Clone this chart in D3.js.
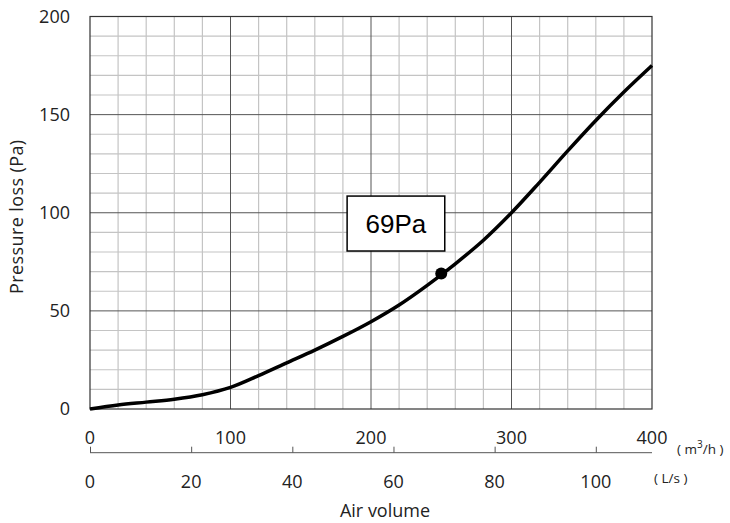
<!DOCTYPE html>
<html>
<head>
<meta charset="utf-8">
<script src="https://cdn.jsdelivr.net/npm/d3@7"></script>
<style>
  body { margin: 0; background: #fff; }
  text { font-family: "Open Sans", "Noto Sans", sans-serif; fill: #222; }
  .minor { stroke: #c4c4c4; stroke-width: 1.2; }
  .major { stroke: #555; stroke-width: 1; }
</style>
</head>
<body>
<svg class="chart"></svg>
<script>
// air volume (m3/h) vs pressure loss (Pa)
var airVolume = [0, 20, 40, 60, 80, 100, 120, 140, 160, 180, 200, 220, 240, 260, 280, 300, 320, 340, 360, 380, 400];
var pressure = [0, 2, 3.5, 5, 7.3, 11, 17, 23.5, 30, 37, 44.5, 53, 63, 74, 86, 100, 115.5, 131.5, 147, 161.5, 175];
var point = { q: 250, p: 69, label: "69Pa" };
var yTicks = [0, 50, 100, 150, 200];
var m3hTicks = [0, 100, 200, 300, 400];
var lsTicks = [0, 20, 40, 60, 80, 100];

var W = 730, H = 523;
var margin = { top: 16.5, left: 90, right: 78, bottom: 114 },
width = W - margin.left - margin.right,
height = H - margin.top - margin.bottom;

var x = d3.scaleLinear().domain([0, 400]).range([0, width]);
var y = d3.scaleLinear().domain([0, 200]).range([height, 0]);
// 1 L/s = 3.6 m3/h
var xLs = d3.scaleLinear().domain([0, 400 / 3.6]).range([0, width]);

var svg = d3.select(".chart")
  .attr("width", W)
  .attr("height", H)
  .append("g")
  .attr("transform", "translate(" + margin.left + "," + margin.top + ")");

// grid
var minorX = d3.range(0, 401, 20).filter(function(d) { return d % 100; });
var minorY = d3.range(0, 201, 10).filter(function(d) { return d % 50; });
svg.selectAll(".gx").data(minorX).enter().append("line")
  .attr("class", "minor")
  .attr("x1", x).attr("x2", x).attr("y1", 0).attr("y2", height);
svg.selectAll(".gy").data(minorY).enter().append("line")
  .attr("class", "minor")
  .attr("y1", y).attr("y2", y).attr("x1", 0).attr("x2", width);
svg.selectAll(".mx").data([100, 200, 300]).enter().append("line")
  .attr("class", "major")
  .attr("x1", x).attr("x2", x).attr("y1", 0).attr("y2", height);
svg.selectAll(".my").data([50, 100, 150]).enter().append("line")
  .attr("class", "major")
  .attr("y1", y).attr("y2", y).attr("x1", 0).attr("x2", width);

svg.append("rect")
  .attr("width", width).attr("height", height)
  .attr("fill", "none").attr("stroke", "#333").attr("stroke-width", 1.2);

// y axis labels
var yAxis = d3.axisLeft(y).tickValues(yTicks).tickSize(0).tickPadding(20);
var gy = svg.append("g").call(yAxis);
gy.select(".domain").remove();
gy.selectAll("text").style("font-size", "18px").style("font-family", "'Open Sans', sans-serif").style("fill", "#222");

svg.append("text")
  .attr("transform", "translate(" + (17 - margin.left) + "," + (height / 2 + 4) + ") rotate(-90)")
  .attr("text-anchor", "middle")
  .attr("dy", "0.35em")
  .style("font-size", "18px")
  .style("letter-spacing", "0.4px")
  .text("Pressure loss (Pa)");

// m3/h labels
svg.selectAll(".m3h").data(m3hTicks).enter().append("text")
  .attr("x", x).attr("y", 438 - margin.top)
  .attr("dy", "0.35em")
  .attr("text-anchor", "middle")
  .style("font-size", "18px")
  .text(function(d) { return d; });
var unit1 = svg.append("text")
  .attr("x", x(400) + 25).attr("y", 454 - margin.top)
  .style("font-size", "13.5px");
unit1.append("tspan").text("( m");
unit1.append("tspan").attr("dy", -6).style("font-size", "10px").text("3");
unit1.append("tspan").attr("dy", 6).text("/h )");

// L/s axis
var lsAxis = d3.axisTop(xLs).tickValues(lsTicks).tickSize(6).tickFormat("");
var gls = svg.append("g")
  .attr("transform", "translate(0," + (452.7 - margin.top) + ")")
  .call(lsAxis);
gls.select(".domain").attr("d", "M0,0H" + width).attr("stroke", "#555");
gls.selectAll(".tick line").attr("stroke", "#555");
svg.selectAll(".ls").data(lsTicks).enter().append("text")
  .attr("x", xLs).attr("y", 482 - margin.top)
  .attr("dy", "0.35em")
  .attr("text-anchor", "middle")
  .style("font-size", "18px")
  .text(function(d) { return d; });
svg.append("text")
  .attr("x", x(400) + 2).attr("y", 478 - margin.top)
  .attr("dy", "0.35em")
  .style("font-size", "13.5px")
  .text("( L/s )");

svg.append("text")
  .attr("x", 385 - margin.left).attr("y", 511 - margin.top)
  .attr("dy", "0.35em")
  .attr("text-anchor", "middle")
  .style("font-size", "18px")
  .text("Air volume");

// curve
var line = d3.line()
  .x(function(d, i) { return x(airVolume[i]); })
  .y(function(d) { return y(d); })
  .curve(d3.curveCatmullRom.alpha(0.5));
svg.append("path")
  .datum(pressure)
  .attr("fill", "none")
  .attr("stroke", "#000")
  .attr("stroke-width", 3.5)
  .attr("d", line);

svg.append("circle")
  .attr("cx", x(point.q)).attr("cy", y(point.p))
  .attr("r", 6).attr("fill", "#000");

// annotation box
var bx0 = x(183), bx1 = x(252.5), by0 = y(108.5), by1 = y(80.5);
svg.append("rect")
  .attr("x", bx0).attr("y", by0)
  .attr("width", bx1 - bx0).attr("height", by1 - by0)
  .attr("fill", "#fff").attr("stroke", "#000").attr("stroke-width", 1.5);
svg.append("text")
  .attr("x", (bx0 + bx1) / 2).attr("y", (by0 + by1) / 2)
  .attr("dy", "0.35em")
  .attr("text-anchor", "middle")
  .style("font-family", "'Liberation Sans', Arial, sans-serif")
  .style("font-size", "26px")
  .style("fill", "#000")
  .text(point.label);
</script>
</body>
</html>
